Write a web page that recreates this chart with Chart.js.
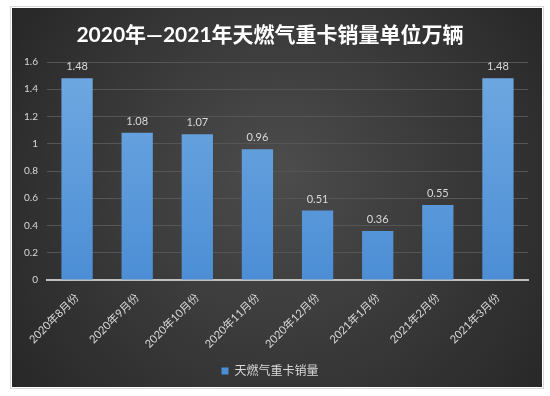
<!DOCTYPE html>
<html><head><meta charset="utf-8">
<script src="https://cdn.jsdelivr.net/npm/chart.js@4.4.1/dist/chart.umd.min.js"></script>
<style>html,body{margin:0;padding:0;background:#fff;}#wrap{width:550px;height:396px;}</style>
</head><body><div id="wrap"><canvas id="c" width="550" height="396"></canvas></div>
<script>
const categories = ['2020年8月份','2020年9月份','2020年10月份','2020年11月份','2020年12月份','2021年1月份','2021年2月份','2021年3月份'];
const salesValues = [1.48, 1.08, 1.07, 0.96, 0.51, 0.36, 0.55, 1.48];
const seriesName = '天燃气重卡销量';
const titleText = '2020年—2021年天燃气重卡销量单位万辆';
const yTicks = [0, 0.2, 0.4, 0.6, 0.8, 1, 1.2, 1.4, 1.6];

const FONT = "Lato, 'Noto Sans CJK SC', sans-serif";
const TXT = '#d9d9d9';

const bgPlugin = {
  id: 'bg',
  beforeDraw(chart) {
    const ctx = chart.ctx;
    ctx.save();
    ctx.fillStyle = '#ffffff';
    ctx.fillRect(0, 0, chart.width, chart.height);
    const x0 = 12, y0 = 8, x1 = 542, y1 = 387;
    const g = ctx.createRadialGradient(280, 170, 10, 280, 200, 330);
    g.addColorStop(0, '#4b4b4b');
    g.addColorStop(1, '#272727');
    ctx.fillStyle = g;
    ctx.fillRect(x0, y0, x1 - x0, y1 - y0);
    ctx.strokeStyle = '#d8d8d8';
    ctx.lineWidth = 1;
    ctx.strokeRect(x0 - 1.5, y0 - 1.5, x1 - x0 + 3, y1 - y0 + 3);
    ctx.restore();
  }
};

const labelPlugin = {
  id: 'vals',
  afterDatasetsDraw(chart) {
    const ctx = chart.ctx;
    const meta = chart.getDatasetMeta(0);
    ctx.save();
    ctx.fillStyle = TXT;
    ctx.font = "11px " + FONT;
    ctx.textAlign = 'center';
    ctx.textBaseline = 'bottom';
    meta.data.forEach((bar, i) => {
      ctx.fillText(salesValues[i].toFixed(2), bar.x, bar.y - 6);
    });
    ctx.restore();
  }
};

new Chart(document.getElementById('c'), {
  type: 'bar',
  data: {
    labels: categories,
    datasets: [{
      label: seriesName,
      data: salesValues,
      backgroundColor(ctx) {
        const ca = ctx.chart.chartArea;
        if (!ca) return '#5b9bd5';
        const g = ctx.chart.ctx.createLinearGradient(0, ca.top, 0, ca.bottom);
        g.addColorStop(0, '#70a9e2');
        g.addColorStop(1, '#4c8ed5');
        return g;
      },
      borderWidth: 0,
      categoryPercentage: 1,
      barPercentage: 0.52
    }]
  },
  options: {
    responsive: false,
    animation: false,
    layout: { padding: { left: 12, right: 22, top: 8, bottom: 9 } },
    plugins: {
      title: {
        display: true,
        text: titleText,
        color: '#ffffff',
        font: { family: FONT, size: 21, weight: 'bold' },
        padding: { top: 15, bottom: 13.8 }
      },
      legend: {
        position: 'bottom',
        labels: {
          color: TXT,
          font: { family: FONT, size: 12 },
          boxWidth: 7, boxHeight: 7, padding: 9
        }
      },
      tooltip: { enabled: false }
    },
    scales: {
      y: {
        min: 0, max: 1.6,
        afterBuildTicks(scale) { scale.ticks = yTicks.map(v => ({ value: v })); },
        afterFit(scale) { scale.width = 35; },
        ticks: {
          color: TXT, font: { family: FONT, size: 10 }, padding: 9,
          callback: (v) => String(v)
        },
        grid: { color: '#555555', lineWidth: 1, drawTicks: false },
        border: { display: false }
      },
      x: {
        afterFit(scale) { scale.height = 76; },
        ticks: {
          color: TXT, font: { family: FONT, size: 11 },
          minRotation: 45, maxRotation: 45, padding: 11, autoSkip: false
        },
        grid: { display: false, drawTicks: false },
        border: { display: true, color: '#bfbfbf', width: 2 }
      }
    }
  },
  plugins: [bgPlugin, labelPlugin]
});
</script></body></html>
